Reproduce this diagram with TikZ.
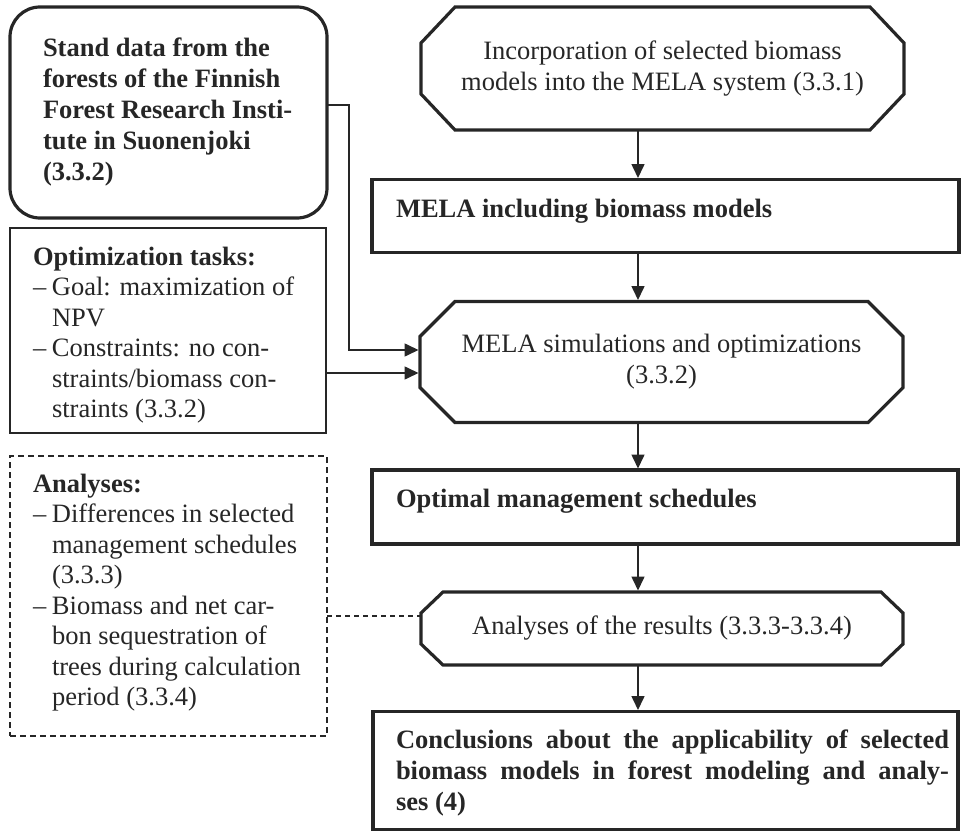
\documentclass[tikz,border=0pt]{standalone}
\usepackage{fontspec}
\setmainfont{Liberation Serif}
\usetikzlibrary{arrows.meta,calc}
\newcommand\octpath[3]{%
  \draw[boxframe] ([xshift=#2]#1.north west) -- ([xshift=-#2]#1.north east)
    -- ([yshift=-#3]#1.north east) -- ([yshift=#3]#1.south east)
    -- ([xshift=-#2]#1.south east) -- ([xshift=#2]#1.south west)
    -- ([yshift=#3]#1.south west) -- ([yshift=-#3]#1.north west) -- cycle;}
\begin{document}
\begin{tikzpicture}[x=1pt,y=-1pt,
  every node/.style={inner sep=0pt, outer sep=0pt},
  fnt/.style={font=\fontsize{26.5}{31}\selectfont},
  fntb/.style={font=\fontsize{26.5}{31}\selectfont\bfseries},
  fntl/.style={font=\fontsize{26.5}{30.5}\selectfont},
  boxframe/.style={draw=black!85, line width=3.2pt},
  thinframe/.style={draw=black!85, line width=2.3pt},
  dashframe/.style={draw=black!85, line width=1.6pt, dash pattern=on 6pt off 4pt},
  octnode/.style={fnt, align=center, text=black!85},
  txt/.style={align=left, anchor=north west, text=black!85},
  conn/.style={draw=black!85, line width=1.6pt},
  arr/.style={conn, shorten >=1.5pt, -{Triangle[length=14pt,width=13pt]}},
]
\useasboundingbox (0,0) rectangle (961,832);

% left boxes
\node[boxframe, rounded corners=30pt, minimum width=317pt, minimum height=211pt] (A) at (168.5,112.5) {};
\node[thinframe, minimum width=316pt, minimum height=205pt] (B) at (168,330.5) {};
\node[dashframe, minimum width=317pt, minimum height=280pt] (C) at (168.5,596) {};

\node[txt, fntb] (At) at (43,36) {\rule{0pt}{20pt}Stand data from the\\forests of the Finnish\\Forest Research Insti-\\tute in Suonenjoki\\(3.3.2)};
\node[txt, fntl] (Bt) at (33,245) {\rule{0pt}{20pt}\textbf{Optimization tasks:}\\
  \makebox[19pt][l]{–}Goal: maximization of\\
  \hspace*{19pt}NPV\\
  \makebox[19pt][l]{–}Constraints: no con-\\
  \hspace*{19pt}straints/biomass con-\\
  \hspace*{19pt}straints (3.3.2)};
\node[txt, fntl] (Ct) at (33,472) {\rule{0pt}{20pt}\textbf{Analyses:}\\
  \makebox[19pt][l]{–}Differences in selected\\
  \hspace*{19pt}management schedules\\
  \hspace*{19pt}(3.3.3)\\
  \makebox[19pt][l]{–}Biomass and net car-\\
  \hspace*{19pt}bon sequestration of\\
  \hspace*{19pt}trees during calculation\\
  \hspace*{19pt}period (3.3.4)};

% right column
\node[octnode, minimum width=483pt, minimum height=123pt] (O1) at (662.5,68.5) {Incorporation of selected biomass\\models into the MELA system (3.3.1)};
\octpath{O1}{34pt}{36pt}
\node[boxframe, minimum width=587pt, minimum height=73pt] (R2) at (665.5,216) {};
\node[octnode, minimum width=483pt, minimum height=121pt] (O3) at (661.5,362) {MELA simulations and optimizations\\(3.3.2)};
\octpath{O3}{35pt}{35pt}
\node[boxframe, minimum width=586pt, minimum height=74pt] (R4) at (665,507) {};
\node[octnode, minimum width=482pt, minimum height=73pt] (O5) at (662,628.5) {Analyses of the results (3.3.3-3.3.4)};
\octpath{O5}{22pt}{21pt}
\node[boxframe, minimum width=585pt, minimum height=118pt] (R6) at (665.5,770.5) {};

\node[fntb, anchor=base west, text=black!85] (R2t) at (396,217) {MELA including biomass models};
\node[fntb, anchor=base west, text=black!85] (R4t) at (396,507) {Optimal management schedules};
\node[txt, fntb] (R6t) at (396,728) {\rule{0pt}{20pt}\makebox[553pt][s]{Conclusions about the applicability of selected}\\\makebox[553pt][s]{biomass models in forest modeling and analy-}\\ses (4)};

% connectors
\coordinate (ax) at (638,0);
\draw[arr] (O1.south -| ax) -- (R2.north -| ax);
\draw[arr] (R2.south -| ax) -- (O3.north -| ax);
\draw[arr] (O3.south -| ax) -- (R4.north -| ax);
\draw[arr] (R4.south -| ax) -- (O5.north -| ax);
\draw[arr] (O5.south -| ax) -- (R6.north -| ax);

\coordinate (ka) at (349,105);
\coordinate (kb) at (349,350);
\draw[arr] (A.east |- ka) -- (ka) -- (kb) -- (O3.west |- kb);
\coordinate (kc) at (0,373);
\draw[arr] (B.east |- kc) -- (O3.west |- kc);
\coordinate (kd) at (0,616);
\draw[conn, line width=1.3pt, dash pattern=on 5pt off 4pt] (C.east |- kd) -- (O5.west |- kd);
\end{tikzpicture}
\end{document}
